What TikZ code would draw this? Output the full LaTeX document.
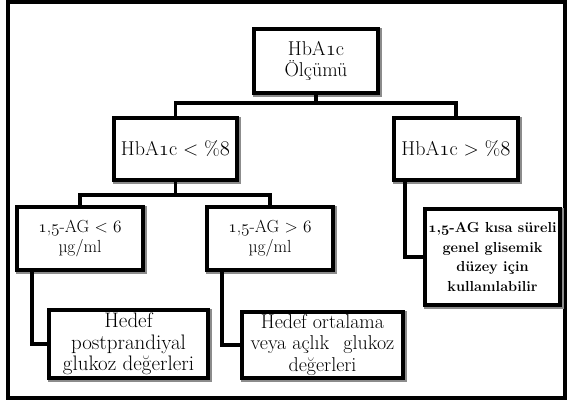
\documentclass[tikz,border=0pt]{standalone}
\usepackage{fontspec}
\usetikzlibrary{shadows}
\newcommand{\osn}[1]{{\fontencoding{OML}\fontfamily{cmm}\fontshape{it}\selectfont #1}}
\tikzset{
  bx/.style={draw=black, line width=4.5pt, fill=white, inner sep=0pt, align=center,
    drop shadow={shadow xshift=1.5pt, shadow yshift=-1.5pt, fill=black!45, draw=black!45, line width=4.5pt, opacity=1}},
  conn/.style={draw=black, line width=3.5pt},
  frame/.style={draw=black, line width=4.5pt}
}
\begin{document}
\begin{tikzpicture}[x=1pt, y=-1pt]
\useasboundingbox (0,0) rectangle (569,403);
\draw[frame] (8,2) rectangle (565,398);

\node[bx, minimum width=124pt, minimum height=64pt, font=\fontsize{20}{21}\selectfont] (root) at (316,61) {HbA\osn{1}c\\Ölçümü};
\node[bx, minimum width=123pt, minimum height=62pt, font=\fontsize{20}{22}\selectfont] (lt) at (175.5,149) {HbA\osn{1}c < \%\osn{8}};
\node[bx, minimum width=124pt, minimum height=62pt, font=\fontsize{20}{22}\selectfont] (gt) at (456,149) {HbA\osn{1}c > \%\osn{8}};
\node[bx, minimum width=126pt, minimum height=63pt, font=\fontsize{17.5}{19.5}\selectfont] (ag1) at (80,238.5) {\osn{1},\osn{5}-AG < \osn{6}\\µg/ml};
\node[bx, minimum width=126pt, minimum height=63pt, font=\fontsize{17.5}{19.5}\selectfont] (ag2) at (270,238.5) {\osn{1},\osn{5}-AG > \osn{6}\\µg/ml};
\node[bx, minimum width=159pt, minimum height=68pt, font=\fontsize{21}{21.5}\selectfont] (pp) at (128.5,344) {Hedef\\postprandiyal\\glukoz değerleri};
\node[bx, minimum width=161pt, minimum height=66pt, font=\fontsize{20}{21.5}\selectfont] (ort) at (322.5,345) {Hedef ortalama\\veya açlık\hspace{0.4em} glukoz\\değerleri};
\node[bx, minimum width=135pt, minimum height=96pt, font=\fontsize{14.5}{19.5}\selectfont\bfseries] (kisa) at (492.5,257) {\osn{1},\osn{5}-AG kısa süreli\\genel glisemik\\düzey için\\kullanılabilir};

\coordinate (j1) at (316,103);
\coordinate (j2) at (175.5,195);
\draw[conn] (root.south) -- (j1);
\draw[conn] (lt.north) |- (j1) -| (gt.north);
\draw[conn] (lt.south) -- (j2);
\draw[conn] (ag1.north) |- (j2) -| (ag2.north);
\draw[conn] ([xshift=-48pt]ag1.south) |- (pp.west);
\draw[conn] ([xshift=-48pt]ag2.south) |- (ort.west);
\draw[conn] ([xshift=-51pt]gt.south) |- (kisa.west);
\end{tikzpicture}
\end{document}
